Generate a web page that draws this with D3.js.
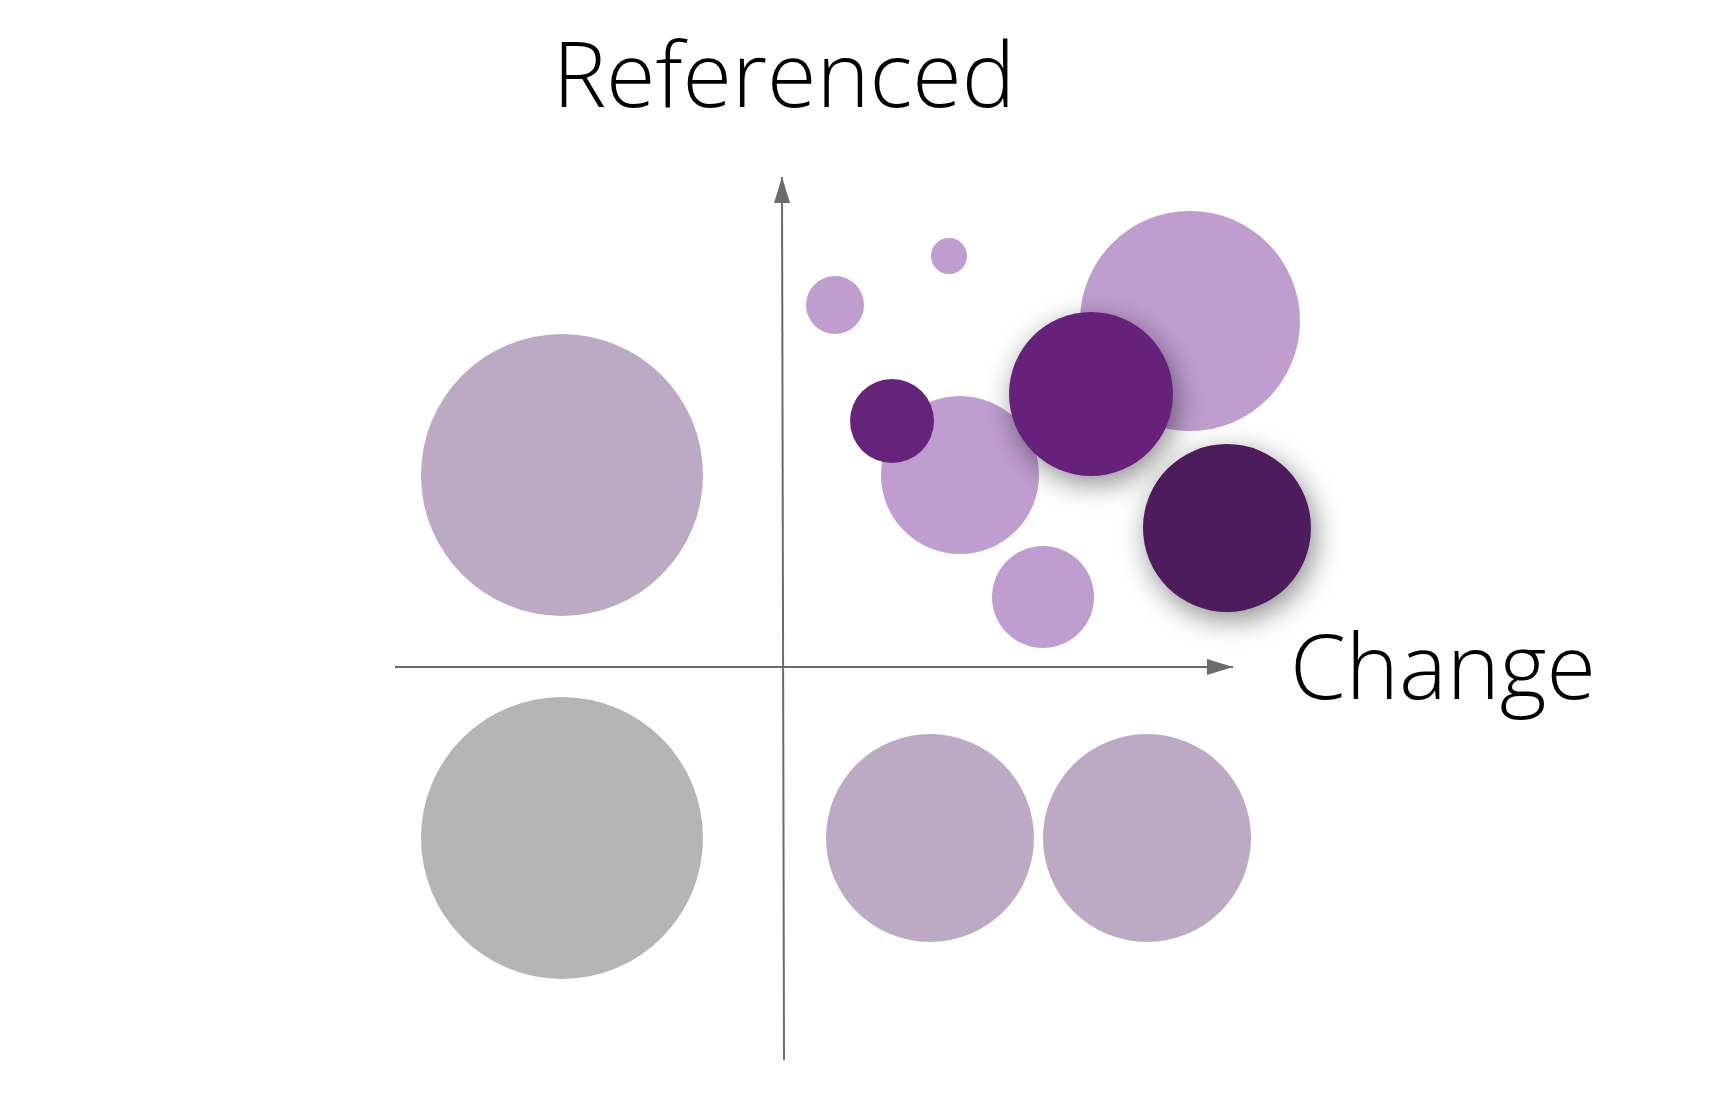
<!DOCTYPE html>
<html>
<head>
<meta charset="utf-8">
<script src="https://cdn.jsdelivr.net/npm/d3@7"></script>
<style>
  body { margin: 0; background: #fff; }
  text { font-family: "Open Sans", sans-serif; font-weight: 300; fill: #000; }
</style>
</head>
<body>
<svg id="chart" width="1722" height="1106"></svg>
<script>
// bubble positions in axis units (origin = axis crossing), radius in same units
const names = ["a", "b", "c", "d", "e", "f", "g", "h", "i", "j", "k", "l"];
const changeVals = [-22, -22, 14.8, 36.5, 5.3, 16.7, 40.8, 17.8, 26.1, 11, 30.9, 44.5];
const refVals = [19.2, -17.1, -17.1, -17.1, 36.2, 41.1, 34.6, 19.2, 7, 24.6, 27.3, 13.9];
const sizes = [14.1, 14.1, 10.4, 10.4, 2.9, 1.8, 11, 7.9, 5.1, 4.2, 8.2, 8.4];
const groups = ["mauve", "grey", "mauve", "mauve", "light", "light", "light", "light", "light", "dark", "dark", "darkest"];
const groupColors = { mauve: "#bca9c3", grey: "#b5b5b5", light: "#bf9dcf", dark: "#66237a", darkest: "#4e1a5c" };

const svg = d3.select("#chart");
const x = d3.scaleLinear().domain([0, 10]).range([782, 882]);
const y = d3.scaleLinear().domain([0, 10]).range([667, 567]);
const r = d3.scaleLinear().domain([0, 10]).range([0, 100]);

const defs = svg.append("defs");
defs.append("marker")
  .attr("id", "arrow").attr("viewBox", "0 0 10 10")
  .attr("refX", 10).attr("refY", 5)
  .attr("markerWidth", 10).attr("markerHeight", 10)
  .attr("markerUnits", "userSpaceOnUse")
  .attr("orient", "auto")
  .append("path").attr("d", "M0,0L10,5L0,10Z").attr("fill", "#6b6b6b")
  .attr("transform", "scale(1)");
defs.select("marker").attr("markerWidth", 26).attr("markerHeight", 20)
  .attr("viewBox", "0 0 26 20").attr("refX", 26).attr("refY", 10)
  .select("path").attr("d", "M0,2L26,10L0,18Z");

const shadow = defs.append("filter").attr("id", "shadow")
  .attr("x", "-50%").attr("y", "-50%").attr("width", "200%").attr("height", "200%");
shadow.append("feDropShadow").attr("dx", 4).attr("dy", 8)
  .attr("stdDeviation", 14).attr("flood-color", "#000").attr("flood-opacity", 0.45);

// axes
svg.append("line")
  .attr("x1", x(-38.7)).attr("y1", y(0)).attr("x2", x(45.1)).attr("y2", y(0))
  .attr("stroke", "#6b6b6b").attr("stroke-width", 2).attr("marker-end", "url(#arrow)");
svg.append("line")
  .attr("x1", x(0.2)).attr("y1", y(-39.3)).attr("x2", x(0)).attr("y2", y(49))
  .attr("stroke", "#6b6b6b").attr("stroke-width", 2).attr("marker-end", "url(#arrow)");

const data = names.map((n, i) => ({ name: n, cx: changeVals[i], cy: refVals[i], s: sizes[i], g: groups[i] }));

svg.append("g").selectAll("circle")
  .data(data)
  .join("circle")
  .attr("cx", (d) => x(d.cx))
  .attr("cy", (d) => y(d.cy))
  .attr("r", (d) => r(d.s))
  .attr("fill", (d) => groupColors[d.g])
  .attr("filter", (d) => (d.g === "dark" && d.s > 5) || d.g === "darkest" ? "url(#shadow)" : null);

svg.append("text").attr("x", 784).attr("y", 107)
  .attr("text-anchor", "middle").attr("font-size", 90).text("Referenced");
svg.append("text").attr("x", 1290).attr("y", 699)
  .attr("font-size", 90).text("Change");
</script>
</body>
</html>
